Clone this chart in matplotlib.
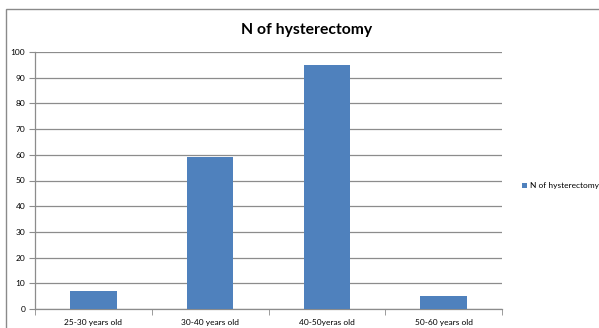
import matplotlib.pyplot as plt
from matplotlib.patches import Rectangle

# Hysterectomy counts by age group
age_groups = ['25-30 years old', '30-40 years old', '40-50yeras old', '50-60 years old']
counts = [7, 59, 95, 5]
series_name = 'N of hysterectomy'

bar_color = '#4f81bd'
grid_color = '#8c8c8c'

plt.rcParams['font.family'] = ['Lato', 'DejaVu Sans']

fig = plt.figure(figsize=(5.99, 3.28), dpi=100)
W, H = 599, 328

# chart area frame (left and top edges visible)
fig.patches.append(Rectangle((6 / W, -0.05), 1.05, 1 - 9 / H + 0.05,
                             transform=fig.transFigure, fill=False,
                             edgecolor='#8a8a8a', linewidth=1.0))

ax = fig.add_axes([35 / W, 1 - 309 / H, (502 - 35) / W, (309 - 52) / H])

x = range(len(age_groups))
ax.bar(x, counts, width=0.4, color=bar_color, label=series_name, zorder=3)

ax.set_xlim(-0.5, len(age_groups) - 0.5)
ax.set_ylim(0, 100)
ax.set_yticks(range(0, 101, 10))
ax.yaxis.grid(True, color=grid_color, linewidth=0.9, zorder=0)

ax.set_xticks(list(x))
ax.set_xticklabels(age_groups)
ax.set_xticks([i + 0.5 for i in range(-1, len(age_groups))], minor=True)
ax.tick_params(axis='x', which='major', length=0, pad=7, labelsize=6)
ax.tick_params(axis='x', which='minor', length=4, color=grid_color, direction='out')
ax.tick_params(axis='y', length=4, color=grid_color, labelsize=6, pad=3)

for side in ['top', 'right']:
    ax.spines[side].set_visible(False)
for side in ['left', 'bottom']:
    ax.spines[side].set_color(grid_color)
    ax.spines[side].set_linewidth(0.9)

fig.text(307 / W, 1 - 30 / H, series_name, ha='center', va='center',
         fontsize=11.3, fontweight='bold')

fig.legend(loc='center left', bbox_to_anchor=(518 / W, 1 - 186 / H),
           frameon=False, fontsize=6, handlelength=0.6, handleheight=0.6,
           handletextpad=0.4, borderpad=0)

fig.savefig('out.png', dpi=100)
